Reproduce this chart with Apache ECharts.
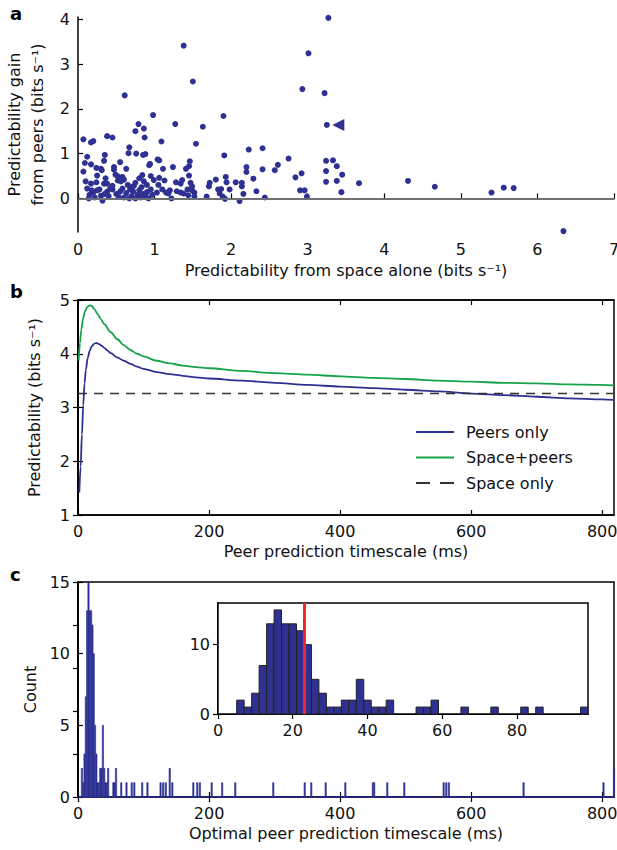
<!DOCTYPE html>
<html>
<head>
<meta charset="utf-8">
<script src="https://cdn.jsdelivr.net/npm/echarts@6.0.0/dist/echarts.min.js"></script>
<style>
  html, body { margin: 0; padding: 0; background: #fff; }
  #chart { width: 617px; height: 850px; }
</style>
</head>
<body>
<div id="chart"></div>
<script>
// panel a: [space alone, gain from peers] (bits/s)
const scatterPoints = [
  [0.07,1.32],[0.17,1.25],[0.20,1.28],[0.38,1.39],[0.45,1.36],[0.61,2.30],[0.66,1.01],[0.67,1.14],[0.75,1.50],
  [0.79,1.66],[0.86,1.56],[0.87,1.36],[0.76,1.00],[0.85,0.97],[0.88,0.99],[0.98,1.86],[0.12,0.93],[0.35,0.97],
  [0.09,0.79],[0.17,0.76],[0.34,0.84],[0.55,0.81],[0.24,0.68],[0.30,0.66],[0.47,0.70],[0.47,0.64],[0.63,0.66],
  [0.93,0.74],[0.94,0.77],[0.07,0.60],[0.25,0.51],[0.49,0.53],[0.52,0.49],[0.84,0.52],[0.31,0.63],[0.58,0.48],
  [0.36,0.45],[0.10,0.38],[0.17,0.33],[0.24,0.36],[0.34,0.33],[0.38,0.33],[0.52,0.40],[0.56,0.38],[0.60,0.42],
  [0.75,0.35],[0.86,0.38],[0.99,0.41],[0.45,0.28],[0.65,0.30],[0.70,0.25],[0.90,0.30],[0.12,0.22],[0.28,0.20],
  [0.80,0.45],[0.95,0.50],[0.15,0.08],[0.20,0.13],[0.25,0.18],[0.30,0.06],[0.32,-0.05],[0.38,0.15],[0.40,0.05],
  [0.45,0.20],[0.50,0.10],[0.55,0.15],[0.60,0.02],[0.63,0.12],[0.68,0.20],[0.70,0.05],[0.72,0.15],[0.75,0.00],
  [0.78,0.08],[0.80,0.18],[0.82,0.02],[0.85,0.10],[0.88,0.05],[0.90,0.14],[0.92,0.00],[0.95,0.20],[0.97,0.08],
  [0.14,0.00],[0.22,0.02],[0.35,0.10],[0.58,0.22],[0.67,0.00],[0.42,0.22],[0.53,0.03],[0.73,0.28],[0.83,0.25],
  [0.18,0.18],
  [1.09,1.27],[1.54,1.22],[1.04,0.87],[1.06,0.85],[1.91,0.96],[1.24,0.70],[1.46,0.83],[1.45,0.72],[1.41,0.66],
  [1.11,0.66],[1.45,0.51],[1.06,0.46],[1.28,0.36],[1.36,0.41],[1.34,0.33],[1.47,0.35],[1.49,0.27],[1.72,0.35],
  [1.71,0.27],[1.80,0.42],[1.93,0.48],[1.94,0.36],[1.03,0.13],[1.10,0.20],[1.15,0.13],[1.20,0.18],[1.18,0.11],
  [1.29,0.16],[1.34,0.13],[1.38,0.11],[1.43,0.20],[1.49,0.18],[1.52,0.13],[1.44,0.07],[1.22,0.00],[1.52,0.04],
  [1.68,0.04],[1.83,0.20],[1.87,0.21],[1.85,0.11],[1.89,0.04],[1.98,0.20],[1.92,-0.01],[1.38,3.41],[1.50,2.61],
  [1.27,1.66],[1.63,1.60],[1.90,1.84],[1.05,0.30],[1.13,0.40],
  [2.23,1.09],[2.41,1.12],[2.75,0.89],[2.20,0.70],[2.20,0.59],[2.61,0.75],[2.57,0.63],[2.41,0.65],[2.92,0.56],
  [2.84,0.47],[2.29,0.44],[2.06,0.36],[2.14,0.35],[2.14,0.27],[2.33,0.16],[2.90,0.18],[2.96,0.18],[2.16,0.10],
  [2.44,0.02],[2.99,0.04],[2.11,-0.06],[2.93,2.44],[3.01,3.24],
  [3.27,4.03],[3.22,2.35],[3.25,1.64],[3.24,0.84],[3.33,0.85],[3.38,0.72],[3.24,0.61],[3.45,0.53],[3.24,0.37],
  [3.38,0.39],[3.67,0.34],[3.44,0.14],[4.31,0.39],[4.66,0.26],[5.40,0.13],[5.56,0.24],[5.69,0.23],[6.34,-0.73]
];
const markedPoint = [[3.40, 1.64]];

// panel b: predictability vs peer timescale (ms)
const peersOnly = [
  [2,1.42],[4,1.9],[6,2.5],[8,3.05],[10,3.45],[12,3.7],[15,3.93],[18,4.06],[21,4.14],[25,4.19],[28,4.2],
  [32,4.18],[36,4.15],[40,4.11],[45,4.06],[50,4.01],[60,3.93],[70,3.87],[80,3.81],[90,3.76],[100,3.72],
  [120,3.66],[140,3.62],[160,3.59],[180,3.56],[200,3.54],[250,3.5],[300,3.46],[350,3.42],[400,3.39],
  [450,3.36],[500,3.33],[550,3.3],[600,3.26],[650,3.23],[700,3.2],[750,3.17],[800,3.15],[818,3.14]
];
const spacePeers = [
  [1,3.87],[3,4.2],[5,4.45],[8,4.67],[11,4.8],[14,4.87],[18,4.9],[21,4.89],[25,4.83],[30,4.74],[35,4.64],
  [40,4.55],[50,4.4],[60,4.27],[70,4.16],[80,4.07],[90,4.0],[100,3.95],[120,3.87],[140,3.82],[160,3.78],
  [180,3.75],[200,3.73],[250,3.68],[300,3.64],[350,3.61],[400,3.58],[450,3.55],[500,3.53],[550,3.5],
  [600,3.48],[650,3.46],[700,3.45],[750,3.43],[800,3.42],[818,3.41]
];
const spaceOnly = [[0,3.26],[818,3.26]];

// panel c: histogram of optimal timescale, [bin start (ms), count], bins 2 ms wide
const binWidth = 2;
const shortBins = [
  [5,2],[7,1],[9,3],[11,7],[13,13],[15,15],[17,13],[19,13],[21,12],[23,10],[25,5],[27,3],[29,1],[31,1],
  [33,2],[35,2],[37,5],[39,2],[41,1],[43,1],[45,2],[53,1],[55,1],[57,2],[65,1],[73,1],[81,1],[85,1],[97,1]
];
const longBins = [
  [105,1],[125,1],[129,1],[133,1],[139,2],[143,1],[175,1],[181,1],[185,1],[203,1],[219,1],[239,1],[297,1],
  [345,1],[355,1],[377,1],[407,1],[449,1],[451,1],[471,1],[497,1],[557,1],[561,1],[565,1],[679,1],[801,1],[817,2]
];
const medianTimescale = 23;

const tickA_y = [0, 1, 2, 3, 4];
const tickB_x = [0, 200, 400, 600, 800];
const tickInset_x = [0, 20, 40, 60, 80];
const tickInset_y = [0, 10];

const navy = '#2e3192';
const green = '#17a34a';
const font = '"DejaVu Sans", "Liberation Sans", sans-serif';
const fs = 16;

const chart = echarts.init(document.getElementById('chart'), null, { renderer: 'svg' });

const lbl = { color: '#111', fontSize: fs, fontFamily: font };
const nameStyle = { color: '#111', fontSize: fs, fontFamily: font };
const line = { show: true, lineStyle: { color: '#000', width: 1.5 } };
const tick = { show: true, inside: true, length: 5, lineStyle: { color: '#000', width: 1.2 } };

function mirror(gridIndex, position, min, max, custom) {
  return {
    type: 'value', gridIndex, position, min, max,
    axisLine: line,
    axisTick: Object.assign({}, tick, custom ? { customValues: custom } : {}),
    axisLabel: { show: false, customValues: custom },
    splitLine: { show: false }
  };
}

function histItem(fill, stroke, lw) {
  return function (params, api) {
    const x0 = api.value(0);
    const n = api.value(1);
    const p0 = api.coord([x0, n]);
    const p1 = api.coord([x0 + binWidth, 0]);
    return {
      type: 'rect',
      shape: { x: p0[0], y: p0[1], width: p1[0] - p0[0], height: p1[1] - p0[1] },
      style: { fill: fill, stroke: stroke, lineWidth: lw }
    };
  };
}

// legend icons: plain strokes, no markers
const solidIcon = 'path://M0,0H38V2H0Z';
const dashIcon = 'path://M0,0H14V2H0ZM24,0H38V2H24Z';

const option = {
  animation: false,
  backgroundColor: '#fff',
  textStyle: { fontFamily: font },
  grid: [
    { left: 78, right: 3, top: 17, bottom: 618, outerBoundsMode: 'none' },
    { left: 78, right: 3, top: 300, bottom: 335, outerBoundsMode: 'none', show: true, borderColor: '#000', borderWidth: 1.5 },
    { left: 78, right: 3, top: 582, bottom: 53, outerBoundsMode: 'none', show: true, borderColor: '#000', borderWidth: 1.5 },
    { left: 218, right: 29, top: 603, bottom: 136, outerBoundsMode: 'none', show: true, borderColor: '#000', borderWidth: 1.5, backgroundColor: '#fff', z: 5 }
  ],
  graphic: [
    { type: 'text', left: 10, top: 4, style: { text: 'a', font: 'bold 18px ' + font, fill: '#000' } },
    { type: 'text', left: 10, top: 282, style: { text: 'b', font: 'bold 18px ' + font, fill: '#000' } },
    { type: 'text', left: 10, top: 565, style: { text: 'c', font: 'bold 18px ' + font, fill: '#000' } }
  ],
  xAxis: [
    {
      type: 'value', gridIndex: 0, min: 0, max: 7, interval: 1,
      name: 'Predictability from space alone (bits s⁻¹)', nameLocation: 'middle', nameGap: 30,
      nameTextStyle: nameStyle,
      axisLine: line, axisTick: tick, axisLabel: Object.assign({ margin: 9 }, lbl), splitLine: { show: false }
    },
    {
      type: 'value', gridIndex: 1, min: 0, max: 818,
      name: 'Peer prediction timescale (ms)', nameLocation: 'middle', nameGap: 28,
      nameTextStyle: nameStyle,
      axisLine: line, axisTick: Object.assign({ customValues: tickB_x }, tick),
      axisLabel: Object.assign({ margin: 8, customValues: tickB_x }, lbl), splitLine: { show: false }
    },
    mirror(1, 'top', 0, 818, tickB_x),
    {
      type: 'value', gridIndex: 2, min: 0, max: 818,
      name: 'Optimal peer prediction timescale (ms)', nameLocation: 'middle', nameGap: 28,
      nameTextStyle: nameStyle,
      axisLine: line, axisTick: Object.assign({ customValues: tickB_x }, tick),
      axisLabel: Object.assign({ margin: 8, customValues: tickB_x }, lbl), splitLine: { show: false }
    },
    mirror(2, 'top', 0, 818, tickB_x),
    {
      type: 'value', gridIndex: 3, min: 0, max: 99,
      axisLine: line, axisTick: Object.assign({ customValues: tickInset_x }, tick),
      axisLabel: Object.assign({ margin: 8, customValues: tickInset_x }, lbl), splitLine: { show: false }
    },
    mirror(3, 'top', 0, 99, tickInset_x)
  ],
  yAxis: [
    {
      type: 'value', gridIndex: 0, min: -0.75, max: 4.05,
      name: 'Predictability gain\nfrom peers (bits s⁻¹)', nameLocation: 'middle', nameGap: 28,
      nameTextStyle: Object.assign({ lineHeight: 23 }, nameStyle),
      axisLine: line, axisTick: Object.assign({ customValues: tickA_y }, tick),
      axisLabel: Object.assign({ margin: 8, customValues: tickA_y }, lbl), splitLine: { show: false }
    },
    {
      type: 'value', gridIndex: 1, min: 1, max: 5, interval: 1,
      name: 'Predictability (bits s⁻¹)', nameLocation: 'middle', nameGap: 36,
      nameTextStyle: nameStyle,
      axisLine: line, axisTick: tick, axisLabel: Object.assign({ margin: 8 }, lbl), splitLine: { show: false }
    },
    mirror(1, 'right', 1, 5),
    {
      type: 'value', gridIndex: 2, min: 0, max: 15, interval: 5,
      name: 'Count', nameLocation: 'middle', nameGap: 38,
      nameTextStyle: nameStyle,
      axisLine: line, axisTick: tick, axisLabel: Object.assign({ margin: 8 }, lbl), splitLine: { show: false }
    },
    mirror(2, 'right', 0, 15),
    {
      type: 'value', gridIndex: 3, min: 0, max: 16,
      axisLine: line, axisTick: Object.assign({ customValues: tickInset_y }, tick),
      axisLabel: Object.assign({ margin: 8, customValues: tickInset_y }, lbl), splitLine: { show: false }
    },
    mirror(3, 'right', 0, 16, tickInset_y)
  ],
  legend: {
    left: 411, top: 417, orient: 'vertical',
    itemWidth: 38, itemHeight: 2, itemGap: 5.5,
    textStyle: { fontSize: 16, fontFamily: font, color: '#111', padding: [0, 0, 0, 7], lineHeight: 20 },
    data: [
      { name: 'Peers only', icon: solidIcon, itemStyle: { color: navy } },
      { name: 'Space+peers', icon: solidIcon, itemStyle: { color: green } },
      { name: 'Space only', icon: dashIcon, itemStyle: { color: '#333' } }
    ]
  },
  series: [
    {
      type: 'scatter', xAxisIndex: 0, yAxisIndex: 0, data: scatterPoints,
      symbolSize: 6, itemStyle: { color: navy, opacity: 1 }, z: 3,
      markLine: {
        silent: true, symbol: 'none', label: { show: false },
        lineStyle: { color: '#808080', width: 1.5, type: 'solid' },
        data: [{ yAxis: 0 }]
      }
    },
    {
      type: 'scatter', xAxisIndex: 0, yAxisIndex: 0, data: markedPoint,
      symbol: 'triangle', symbolSize: 12, symbolRotate: 90, itemStyle: { color: navy, opacity: 1 }
    },
    {
      name: 'Peers only', type: 'line', xAxisIndex: 1, yAxisIndex: 1, data: peersOnly,
      smooth: 0.3, smoothMonotone: 'x', symbol: 'none', lineStyle: { color: navy, width: 1.8 }, itemStyle: { color: navy }
    },
    {
      name: 'Space+peers', type: 'line', xAxisIndex: 1, yAxisIndex: 1, data: spacePeers,
      smooth: 0.3, smoothMonotone: 'x', symbol: 'none', lineStyle: { color: green, width: 1.8 }, itemStyle: { color: green }
    },
    {
      name: 'Space only', type: 'line', xAxisIndex: 1, yAxisIndex: 1, data: spaceOnly,
      symbol: 'none', lineStyle: { color: '#333', width: 1.5, type: [9, 7] }, itemStyle: { color: '#333' }
    },
    {
      type: 'custom', xAxisIndex: 3, yAxisIndex: 3, data: shortBins.concat(longBins),
      renderItem: histItem(navy, navy, 0.6), encode: { x: 0, y: 1 },
      markLine: {
        silent: true, symbol: 'none', label: { show: false },
        lineStyle: { color: navy, width: 1.5, type: 'solid' },
        data: [{ yAxis: 0 }]
      }
    },
    {
      type: 'custom', xAxisIndex: 5, yAxisIndex: 5, data: shortBins, z: 6,
      renderItem: histItem(navy, '#222', 1), encode: { x: 0, y: 1 },
      markLine: {
        silent: true, symbol: 'none', label: { show: false }, z: 7,
        lineStyle: { color: '#ee2a2a', width: 3, type: 'solid' },
        data: [{ xAxis: medianTimescale }]
      }
    }
  ]
};

chart.setOption(option);
</script>
</body>
</html>
